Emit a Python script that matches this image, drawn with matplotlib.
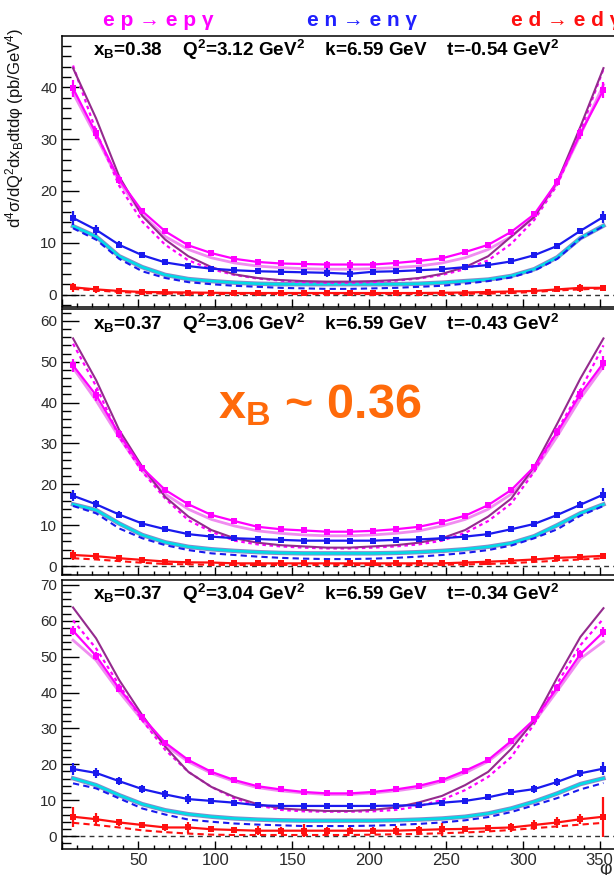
import matplotlib
matplotlib.use("Agg")
import matplotlib.pyplot as plt
from matplotlib.ticker import MultipleLocator, FuncFormatter

plt.rcParams['font.family'] = ['Liberation Sans', 'DejaVu Sans']
plt.rcParams['mathtext.fontset'] = 'custom'
plt.rcParams['mathtext.rm'] = 'Liberation Sans'
plt.rcParams['mathtext.it'] = 'Liberation Sans:italic'
plt.rcParams['mathtext.bf'] = 'Liberation Sans:bold'

# phi bin centres (deg)
phi = [7.5, 22.5, 37.5, 52.5, 67.5, 82.5, 97.5, 112.5, 127.5, 142.5, 157.5, 172.5,
       187.5, 202.5, 217.5, 232.5, 247.5, 262.5, 277.5, 292.5, 307.5, 322.5, 337.5, 352.5]

kin_labels = [
    r"x$_{\mathbf{B}}$=0.38    Q$^{\mathbf{2}}$=3.12 GeV$^{\mathbf{2}}$    k=6.59 GeV    t=-0.54 GeV$^{\mathbf{2}}$",
    r"x$_{\mathbf{B}}$=0.37    Q$^{\mathbf{2}}$=3.06 GeV$^{\mathbf{2}}$    k=6.59 GeV    t=-0.43 GeV$^{\mathbf{2}}$",
    r"x$_{\mathbf{B}}$=0.37    Q$^{\mathbf{2}}$=3.04 GeV$^{\mathbf{2}}$    k=6.59 GeV    t=-0.34 GeV$^{\mathbf{2}}$",
]

# ---- bin 1: t = -0.54 ----
ep1 = [39.8, 31.1, 22.2, 16.1, 12.2, 9.5, 8.0, 6.9, 6.3, 6.0, 5.9, 5.8,
       5.8, 5.8, 6.1, 6.5, 7.0, 8.2, 9.6, 12.1, 15.5, 21.8, 31.1, 39.5]
ep1_err = [1.6, 1.1, 0.8, 0.6, 0.5, 0.5, 0.5, 0.5, 0.5, 0.5, 0.6, 0.6,
           0.9, 0.6, 0.5, 0.5, 0.5, 0.5, 0.5, 0.5, 0.5, 0.7, 1.1, 1.5]
en1 = [14.8, 12.5, 9.6, 7.6, 6.2, 5.5, 5.0, 4.7, 4.5, 4.4, 4.3, 4.2,
       4.0, 4.4, 4.5, 4.7, 4.9, 5.3, 5.7, 6.4, 7.6, 9.4, 12.3, 15.0]
en1_err = [1.3, 1.0, 0.7, 0.6, 0.5, 0.5, 0.5, 0.6, 0.5, 0.6, 0.6, 0.9,
           1.3, 0.6, 0.5, 0.5, 0.5, 0.5, 0.6, 0.5, 0.6, 0.6, 0.6, 1.2]
ed1 = [1.4, 1.0, 0.7, 0.5, 0.45, 0.4, 0.35, 0.3, 0.3, 0.3, 0.3, 0.3,
       0.3, 0.3, 0.3, 0.3, 0.35, 0.4, 0.5, 0.6, 0.7, 1.0, 1.3, 1.3]
ed1_err = [0.9, 0.6, 0.5, 0.5, 0.5, 0.5, 0.4, 0.4, 0.4, 0.4, 0.4, 0.4,
           0.4, 0.4, 0.4, 0.4, 0.4, 0.4, 0.4, 0.4, 0.4, 0.5, 0.8, 0.6]
vgg1 = [43.7, 34.0, 22.8, 15.2, 10.6, 7.4, 5.3, 3.9, 3.2, 2.8, 2.6, 2.5,
        2.5, 2.6, 2.8, 3.2, 4.0, 5.3, 7.4, 11.2, 15.0, 21.8, 32.4, 43.7]
kmp1 = [44.2, 31.5, 21.0, 14.1, 9.6, 6.6, 4.9, 3.8, 3.1, 2.7, 2.4, 2.3,
        2.3, 2.4, 2.7, 3.1, 3.8, 4.9, 6.6, 9.8, 14.4, 21.2, 31.5, 43.5]
bh_p1 = [38.9, 30.5, 21.8, 15.4, 11.2, 8.7, 7.1, 6.1, 5.5, 5.2, 5.0, 4.9,
         4.9, 5.0, 5.2, 5.5, 6.1, 7.1, 8.7, 11.2, 15.0, 21.5, 30.8, 40.5]
bh_n1 = [13.2, 11.2, 7.4, 5.3, 3.8, 3.0, 2.6, 2.3, 2.1, 2.0, 2.0, 2.0,
         2.0, 2.0, 2.0, 2.1, 2.3, 2.6, 2.9, 3.6, 4.9, 7.2, 10.9, 13.3]
kmn1 = [12.8, 10.6, 6.9, 4.5, 3.2, 2.4, 2.0, 1.7, 1.5, 1.3, 1.2, 1.1,
        1.1, 1.2, 1.3, 1.5, 1.7, 2.1, 2.6, 3.3, 4.6, 6.9, 10.8, 13.2]
kmd1 = [1.1, 0.8, 0.5, 0.3, 0.2, 0.15, 0.1, 0.1, 0.1, 0.1, 0.1, 0.1,
        0.1, 0.1, 0.1, 0.1, 0.1, 0.15, 0.2, 0.3, 0.5, 0.8, 1.0, 1.2]

# ---- bin 2: t = -0.43 ----
ep2 = [49.1, 41.8, 32.3, 24.0, 18.6, 15.1, 12.5, 11.0, 9.6, 9.0, 8.7, 8.4,
       8.4, 8.6, 9.0, 9.6, 10.8, 12.3, 14.9, 18.6, 24.3, 32.8, 42.1, 49.7]
ep2_err = [1.5, 1.4, 1.0, 0.7, 0.6, 0.5, 0.5, 0.5, 0.5, 0.5, 0.5, 0.5,
           0.5, 0.5, 0.5, 0.5, 0.5, 0.5, 0.5, 0.6, 0.7, 1.0, 1.3, 1.7]
en2 = [17.2, 15.1, 12.6, 10.4, 9.0, 7.8, 7.2, 6.8, 6.6, 6.4, 6.2, 6.2,
       6.2, 6.2, 6.4, 6.5, 6.8, 7.2, 7.8, 9.0, 10.3, 12.5, 15.0, 17.5]
en2_err = [1.3, 1.0, 0.8, 0.6, 0.6, 0.5, 0.5, 0.5, 0.4, 0.4, 0.4, 0.4,
           0.4, 0.4, 0.4, 0.4, 0.4, 0.6, 0.5, 0.6, 0.6, 0.8, 0.9, 1.5]
ed2 = [2.7, 2.4, 1.9, 1.5, 1.1, 0.9, 0.85, 0.65, 0.65, 0.65, 0.65, 0.65,
       0.65, 0.65, 0.65, 0.65, 0.65, 0.85, 1.05, 1.3, 1.6, 2.0, 2.2, 2.5]
ed2_err = [1.3, 0.9, 0.7, 0.6, 0.5, 0.4, 0.4, 0.4, 0.4, 0.4, 0.4, 0.4,
           0.4, 0.4, 0.4, 0.4, 0.4, 0.5, 0.4, 0.5, 0.5, 0.6, 0.6, 0.7]
vgg2 = [55.7, 45.5, 33.3, 24.3, 16.9, 12.1, 8.8, 6.8, 5.7, 5.1, 4.8, 4.5,
        4.5, 4.8, 5.1, 5.7, 6.8, 8.8, 12.1, 16.5, 24.3, 34.9, 45.9, 55.7]
kmp2 = [54.4, 44.0, 31.6, 23.1, 16.5, 11.2, 8.4, 6.2, 5.3, 4.8, 4.5, 4.3,
        4.3, 4.5, 4.8, 5.3, 6.2, 8.1, 11.0, 15.3, 23.1, 33.3, 43.0, 54.0]
bh_p2 = [48.5, 40.5, 31.5, 23.3, 17.6, 13.9, 11.4, 9.8, 8.6, 8.0, 7.6, 7.4,
         7.4, 7.6, 8.0, 8.6, 9.8, 11.4, 13.9, 17.6, 23.3, 31.8, 41.0, 48.8]
bh_n2 = [15.1, 13.7, 10.4, 7.6, 5.8, 4.7, 4.1, 3.7, 3.4, 3.2, 3.1, 3.1,
         3.1, 3.1, 3.2, 3.4, 3.7, 4.1, 4.7, 5.6, 7.3, 10.0, 12.9, 15.1]
kmn2 = [14.7, 12.9, 9.2, 6.8, 5.1, 3.9, 3.1, 2.7, 2.3, 2.0, 1.8, 1.7,
        1.7, 1.8, 2.0, 2.3, 2.7, 3.2, 3.9, 5.0, 6.8, 9.0, 12.3, 14.7]
kmd2 = [1.9, 1.6, 1.2, 0.8, 0.5, 0.4, 0.3, 0.25, 0.25, 0.25, 0.25, 0.25,
        0.25, 0.25, 0.25, 0.25, 0.3, 0.4, 0.5, 0.7, 1.0, 1.3, 1.6, 1.9]

# ---- bin 3: t = -0.34 ----
ep3 = [57.2, 50.2, 41.1, 33.2, 26.0, 21.2, 17.9, 15.6, 13.9, 13.0, 12.3, 11.9,
       11.9, 12.3, 13.0, 14.0, 15.6, 18.2, 21.2, 26.5, 32.5, 41.4, 50.7, 56.9]
ep3_err = [1.3, 1.0, 0.9, 0.8, 0.6, 0.6, 0.6, 0.5, 0.5, 0.5, 0.5, 0.5,
           0.5, 0.5, 0.5, 0.5, 0.5, 0.6, 0.6, 0.6, 0.8, 0.9, 1.1, 1.3]
en3 = [18.7, 17.6, 15.3, 13.1, 11.6, 10.3, 9.8, 9.3, 8.6, 8.4, 8.4, 8.4,
       8.4, 8.4, 8.5, 8.6, 9.3, 9.8, 10.8, 12.2, 13.1, 15.1, 17.5, 18.8]
en3_err = [1.7, 1.5, 1.2, 1.1, 1.2, 1.3, 0.8, 0.8, 0.8, 0.7, 0.9, 0.8,
           0.8, 0.8, 0.7, 0.7, 0.8, 0.8, 0.8, 0.8, 1.0, 1.1, 1.0, 1.8]
ed3 = [5.4, 4.7, 3.8, 3.1, 2.4, 2.4, 1.9, 1.7, 1.5, 1.5, 1.5, 1.5,
       1.5, 1.5, 1.5, 1.7, 1.9, 2.0, 2.2, 2.4, 3.1, 3.8, 4.7, 5.4]
ed3_err = [2.8, 1.6, 1.0, 0.9, 1.0, 1.5, 0.9, 0.9, 1.2, 1.0, 1.8, 1.0,
           1.0, 0.9, 1.2, 1.0, 1.8, 0.8, 0.9, 1.3, 1.4, 1.5, 1.4, 5.6]
vgg3 = [63.7, 55.1, 43.5, 33.7, 24.9, 17.9, 13.7, 10.9, 8.9, 7.7, 7.3, 7.0,
        7.0, 7.3, 8.0, 9.4, 11.2, 14.2, 17.9, 24.3, 32.2, 44.2, 55.5, 63.5]
kmp3 = [60.1, 52.3, 42.1, 32.3, 24.0, 17.9, 13.7, 10.5, 8.6, 7.3, 6.9, 6.8,
        6.8, 6.9, 7.3, 8.3, 10.1, 12.8, 16.5, 22.0, 31.3, 42.6, 53.2, 60.6]
bh_p3 = [54.6, 49.0, 40.2, 32.3, 25.3, 20.7, 17.5, 15.2, 13.5, 12.6, 12.0, 11.6,
         11.6, 12.0, 12.6, 13.5, 15.2, 17.6, 20.8, 25.8, 31.8, 40.5, 49.4, 54.2]
bh_n3 = [16.1, 14.2, 11.4, 8.9, 7.2, 6.1, 5.4, 4.9, 4.6, 4.4, 4.3, 4.3,
         4.3, 4.3, 4.4, 4.6, 4.9, 5.4, 6.3, 7.7, 9.6, 11.9, 14.5, 16.1]
kmn3 = [14.7, 13.3, 10.5, 7.7, 6.0, 4.6, 4.0, 3.5, 3.2, 3.0, 2.8, 2.8,
        2.8, 2.9, 3.1, 3.4, 3.8, 4.4, 5.3, 6.7, 8.6, 10.6, 13.0, 14.8]
kmd3 = [3.7, 3.1, 2.4, 1.6, 1.1, 0.7, 0.4, 0.3, 0.3, 0.3, 0.3, 0.3,
        0.3, 0.4, 0.5, 0.6, 0.8, 1.0, 1.3, 1.7, 2.2, 2.7, 3.2, 3.7]

panels = [
    dict(ep=ep1, ep_err=ep1_err, en=en1, en_err=en1_err, ed=ed1, ed_err=ed1_err,
         vgg=vgg1, kmp=kmp1, bh_p=bh_p1, bh_n=bh_n1, kmn=kmn1, kmd=kmd1),
    dict(ep=ep2, ep_err=ep2_err, en=en2, en_err=en2_err, ed=ed2, ed_err=ed2_err,
         vgg=vgg2, kmp=kmp2, bh_p=bh_p2, bh_n=bh_n2, kmn=kmn2, kmd=kmd2),
    dict(ep=ep3, ep_err=ep3_err, en=en3, en_err=en3_err, ed=ed3, ed_err=ed3_err,
         vgg=vgg3, kmp=kmp3, bh_p=bh_p3, bh_n=bh_n3, kmn=kmn3, kmd=kmd3),
]

MAG = '#ff00ff'
PINK = '#f08cf0'
PURPLE = '#942a8e'
BLUE = '#1a1aee'
CYAN = '#00dde8'
SLATE = '#8a8ac8'
RED = '#ff1010'

W, H = 614.0, 875.0
fig = plt.figure(figsize=(W / 100, H / 100), dpi=100)

# pad frames in pixel units: (top, bottom, y-range)
frames = [(36, 306.5, (-2.3, 49.9)),
          (309, 575, (-2.2, 62.9)),
          (579.5, 849, (-3.6, 71.5))]
x_left, x_width = 61.5, 553.5

axes = []
for i, (top, bot, ylim) in enumerate(frames):
    ax = fig.add_axes([x_left / W, 1 - bot / H, x_width / W, (bot - top) / H])
    ax.set_zorder(3 - i)
    ax.set_xlim(0, 360)
    ax.set_ylim(*ylim)
    axes.append(ax)

hide_zero = FuncFormatter(lambda v, pos: '' if abs(v) < 1e-9 else f"{v:g}")

for i, (ax, p) in enumerate(zip(axes, panels)):
    ax.axhline(0, color='#333333', lw=1.0, ls=(0, (3.5, 3)), zorder=1)

    # theory curves
    ax.plot(phi, p['bh_n'], color=SLATE, lw=3.2, zorder=2)
    ax.plot(phi, p['bh_n'], color=CYAN, lw=1.8, zorder=2.1)
    ax.plot(phi, p['kmn'], color=BLUE, lw=1.5, ls=(0, (3, 2)), zorder=2.2)
    ax.plot(phi, p['kmd'], color=RED, lw=1.5, ls=(0, (3, 2)), zorder=2.2)
    ax.plot(phi, p['bh_p'], color=PINK, lw=2.0, zorder=2.3)
    ax.plot(phi, p['kmp'], color=MAG, lw=1.6, ls=(0, (1.6, 1.6)), zorder=2.4)
    ax.plot(phi, p['vgg'], color=PURPLE, lw=1.5, zorder=2.5)

    # measured cross sections
    for key, col in (('ed', RED), ('en', BLUE), ('ep', MAG)):
        ax.plot(phi, p[key], color=col, lw=1.6, zorder=3)
        ax.errorbar(phi, p[key], yerr=p[key + '_err'], fmt='s', color=col,
                    ms=4.4, mew=0, elinewidth=1.6, capsize=2.8, capthick=2.2,
                    zorder=4)

    top = frames[i][0]
    ax.text(93 / W, 1 - (top + 20.5) / H, kin_labels[i], transform=fig.transFigure,
            fontsize=13.6, fontweight='bold', color='black', va='baseline',
            ha='left')

    # tick styling
    ax.xaxis.set_major_locator(MultipleLocator(50))
    ax.xaxis.set_minor_locator(MultipleLocator(10))
    ax.xaxis.set_major_formatter(hide_zero)
    ax.yaxis.set_major_locator(MultipleLocator(10))
    ax.yaxis.set_minor_locator(MultipleLocator(2))
    ax.tick_params(axis='y', which='major', direction='in', length=12.5,
                   width=1.0, labelsize=11, labelcolor='#2a2a2a', pad=3)
    ax.tick_params(axis='y', which='minor', direction='in', length=6.5, width=1.0)
    ax.tick_params(axis='x', which='major', direction='in', length=6, width=1.0,
                   labelsize=12, labelcolor='#2a2a2a', pad=3)
    ax.tick_params(axis='x', which='minor', direction='in', length=3.2, width=1.0)
    if i < 2:
        ax.tick_params(axis='x', labelbottom=False)
    for s in ax.spines.values():
        s.set_linewidth(1.1)

# reaction headers
fig.text(103 / W, 1 - 26.5 / H, "e p → e p γ", color=MAG, fontsize=15,
         fontweight='bold', va='baseline')
fig.text(307 / W, 1 - 26.5 / H, "e n → e n γ", color='#2020ff', fontsize=15,
         fontweight='bold', va='baseline')
fig.text(511 / W, 1 - 26.5 / H, "e d → e d γ", color=RED, fontsize=15,
         fontweight='bold', va='baseline')

fig.text(218 / W, 1 - 418 / H, r"x$_{\mathbf{B}}$ ~ 0.36", color='#ff6a0a',
         fontsize=35, fontweight='bold', va='baseline', zorder=10)

fig.text(15 / W, 1 - 128 / H,
         r"d$^{4}$σ/dQ$^{2}$dx$_{\rm B}$dtdφ (pb/GeV$^{4}$)",
         rotation=90, fontsize=12.0, color='#111111', ha='center', va='center')

fig.text(606 / W, 1 - 869 / H, "φ", fontsize=14, color='#2a2a2a',
         ha='center', va='center')

fig.savefig("out.png", dpi=100)
